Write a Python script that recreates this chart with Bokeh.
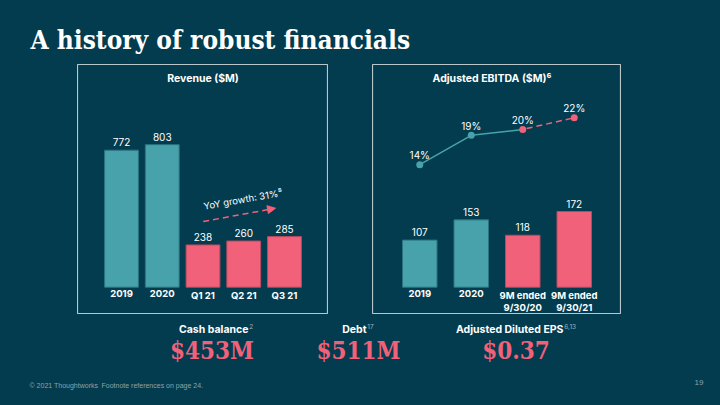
from bokeh.plotting import figure
from bokeh.models import Range1d, FactorRange, ColumnDataSource, Spacer, Arrow, NormalHead
from bokeh.layouts import column, row
from bokeh.core.properties import value
from bokeh.embed import file_html
from bokeh.resources import INLINE

# ---------------- data ----------------
rev_cats = ["2019", "2020", "Q1 21", "Q2 21", "Q3 21"]
rev_vals = [772, 803, 238, 260, 285]

ebitda_cats = ["2019", "2020", "9M ended 9/30/20", "9M ended 9/30/21"]
ebitda_vals = [107, 153, 118, 172]
margin_vals = [14, 19, 20, 22]

kpi_labels = ["Cash balance", "Debt", "Adjusted Diluted EPS"]
kpi_notes = ["2", "17", "6,13"]
kpi_values = ["$453M", "$511M", "$0.37"]

# ---------------- style ----------------
BG = "#033c4e"
TEAL = "#48a2ac"
TEAL_LINE = "#2b7580"
PINK = "#f2617a"
PINK_LINE = "#b84a60"
BOX = "#b9c6ca"
SANS = value("Inter")
SERIF = value("DejaVu Serif Condensed")


def is_actual(c):
    return c.startswith("20")


def base_fig(**kw):
    p = figure(output_backend="svg", toolbar_location=None,
               x_axis_location=None, y_axis_location=None,
               min_border=0, background_fill_color=BG, border_fill_color=BG,
               **kw)
    p.grid.visible = False
    return p


# ---------------- header ----------------
header = base_fig(width=720, height=64, x_range=Range1d(0, 720), y_range=Range1d(64, 0),
                  outline_line_color=None)
header.text(x=[30], y=[39], text=["A history of robust financials"],
            text_font=SERIF, text_font_style="bold", text_font_size="26px",
            text_color="white", text_align="left", text_baseline="middle")

# ---------------- revenue chart ----------------
rev = base_fig(width=251, height=250,
               x_range=FactorRange(factors=rev_cats, range_padding=0.58,
                                   range_padding_units="absolute"),
               y_range=Range1d(-154, 1255), outline_line_color=BOX, outline_line_width=1.2)
rev_src = ColumnDataSource(dict(
    x=rev_cats, top=rev_vals, label=[str(v) for v in rev_vals],
    fill=[TEAL if is_actual(c) else PINK for c in rev_cats],
    line=[TEAL_LINE if is_actual(c) else PINK_LINE for c in rev_cats],
    zero=[0] * len(rev_cats)))
rev.vbar(x="x", top="top", bottom=0, width=0.83, source=rev_src,
         fill_color="fill", line_color="line", line_width=1)
rev.text(x="x", y="top", text="label", source=rev_src, y_offset=-8,
         text_align="center", text_baseline="middle", text_font=SANS,
         text_font_size="10px", text_color="white")
rev.text(x="x", y="zero", text="x", source=rev_src, y_offset=2.5,
         text_align="center", text_baseline="top", text_font=SANS,
         text_font_size="9.5px", text_font_style="bold", text_color="white")
rev.text(x=[len(rev_cats) / 2], y=[rev.y_range.end], text=["Revenue ($M)"], y_offset=14,
         text_align="center", text_baseline="middle", text_font=SANS,
         text_font_size="10.5px", text_font_style="bold", text_color="white")
rev.add_layout(Arrow(end=NormalHead(size=8, fill_color=PINK, line_color=PINK),
                     x_start=2.505, y_start=370, x_end=4.28, y_end=445,
                     line_color=PINK, line_width=1.5, line_dash="6 4"))
rev.text(x=[3.48], y=[495], text=["YoY growth: 31%\u2075"], angle=0.175,
         text_align="center", text_baseline="middle", text_font=SANS,
         text_font_size="9.5px", text_color="white")

# ---------------- EBITDA chart ----------------
eb = base_fig(width=249, height=250,
              x_range=FactorRange(factors=ebitda_cats, range_padding=0.4175,
                                  range_padding_units="absolute"),
              y_range=Range1d(-62, 506), outline_line_color=BOX, outline_line_width=1.2)
eb.extra_y_ranges = {"pct": Range1d(-11.56, 31.08)}
eb_src = ColumnDataSource(dict(
    x=ebitda_cats, top=ebitda_vals, label=[str(v) for v in ebitda_vals],
    cat_label=[c.replace(" 9/", "\n9/") for c in ebitda_cats],
    fill=[TEAL if is_actual(c) else PINK for c in ebitda_cats],
    line=[TEAL_LINE if is_actual(c) else PINK_LINE for c in ebitda_cats],
    margin=margin_vals, mlabel=[f"{m}%" for m in margin_vals],
    zero=[0] * len(ebitda_cats)))
eb.vbar(x="x", top="top", bottom=0, width=0.67, source=eb_src,
        fill_color="fill", line_color="line", line_width=1)
eb.text(x="x", y="top", text="label", source=eb_src, y_offset=-8,
        text_align="center", text_baseline="middle", text_font=SANS,
        text_font_size="10px", text_color="white")
eb.text(x="x", y="zero", text="cat_label", source=eb_src, y_offset=2.5,
        text_align="center", text_baseline="top", text_font=SANS,
        text_font_size="9.5px", text_font_style="bold", text_color="white",
        text_line_height=1.15)
eb.line(x=ebitda_cats[:3], y=margin_vals[:3], y_range_name="pct",
        line_color=TEAL, line_width=1.5)
eb.line(x=ebitda_cats[2:], y=margin_vals[2:], y_range_name="pct",
        line_color=PINK, line_width=1.5, line_dash="6 4", line_dash_offset=6)
eb.scatter(x="x", y="margin", source=eb_src, y_range_name="pct", size=7,
           fill_color="fill", line_color=None)
eb.text(x="x", y="margin", text="mlabel", source=eb_src, y_range_name="pct",
        y_offset=-9.5, text_align="center", text_baseline="middle",
        text_font=SANS, text_font_size="10px", text_color="white")
eb.text(x=[len(ebitda_cats) / 2], y=[eb.y_range.end], text=["Adjusted EBITDA ($M)\u2076"],
        y_offset=14, x_offset=-5, text_align="center", text_baseline="middle",
        text_font=SANS, text_font_size="10.5px", text_font_style="bold",
        text_color="white")

# ---------------- bottom KPIs and footer ----------------
bottom = base_fig(width=720, height=91, x_range=Range1d(0, 720), y_range=Range1d(405, 314),
                  outline_line_color=None)
label_right = [248, 366, 563]
value_center = [211.5, 358, 515.5]
bottom.text(x=label_right, y=[328.5] * 3, text=kpi_labels, text_align="right",
            text_baseline="middle", text_font=SANS, text_font_size="10.5px",
            text_font_style="bold", text_color="white")
bottom.text(x=[r + 0.8 for r in label_right], y=[325.5] * 3, text=kpi_notes,
            text_align="left", text_baseline="middle", text_font=SANS,
            text_font_size="6.5px", text_color="#9fb1b7")
bottom.text(x=value_center, y=[350] * 3, text=kpi_values, text_align="center",
            text_baseline="middle", text_font=SERIF, text_font_style="bold",
            text_font_size="24px", text_color=PINK)
bottom.text(x=[29, 101], y=[384.5, 384.5],
            text=["\u00a9 2021 Thoughtworks", "Footnote references on page 24."],
            text_align="left", text_baseline="middle", text_font=value("Liberation Sans"),
            text_font_size="7px", text_color="#8ea2a9")
bottom.text(x=[703], y=[382], text=["19"], text_align="right", text_baseline="middle",
            text_font=value("Liberation Sans"), text_font_size="8px", text_color="#8ea2a9")

middle = row(Spacer(width=77, height=250), rev, Spacer(width=44, height=250), eb,
             Spacer(width=99, height=250), styles={"background-color": BG})
p = column(header, middle, bottom, styles={"background-color": BG})

open("out.html", "w").write(file_html(p, INLINE))
